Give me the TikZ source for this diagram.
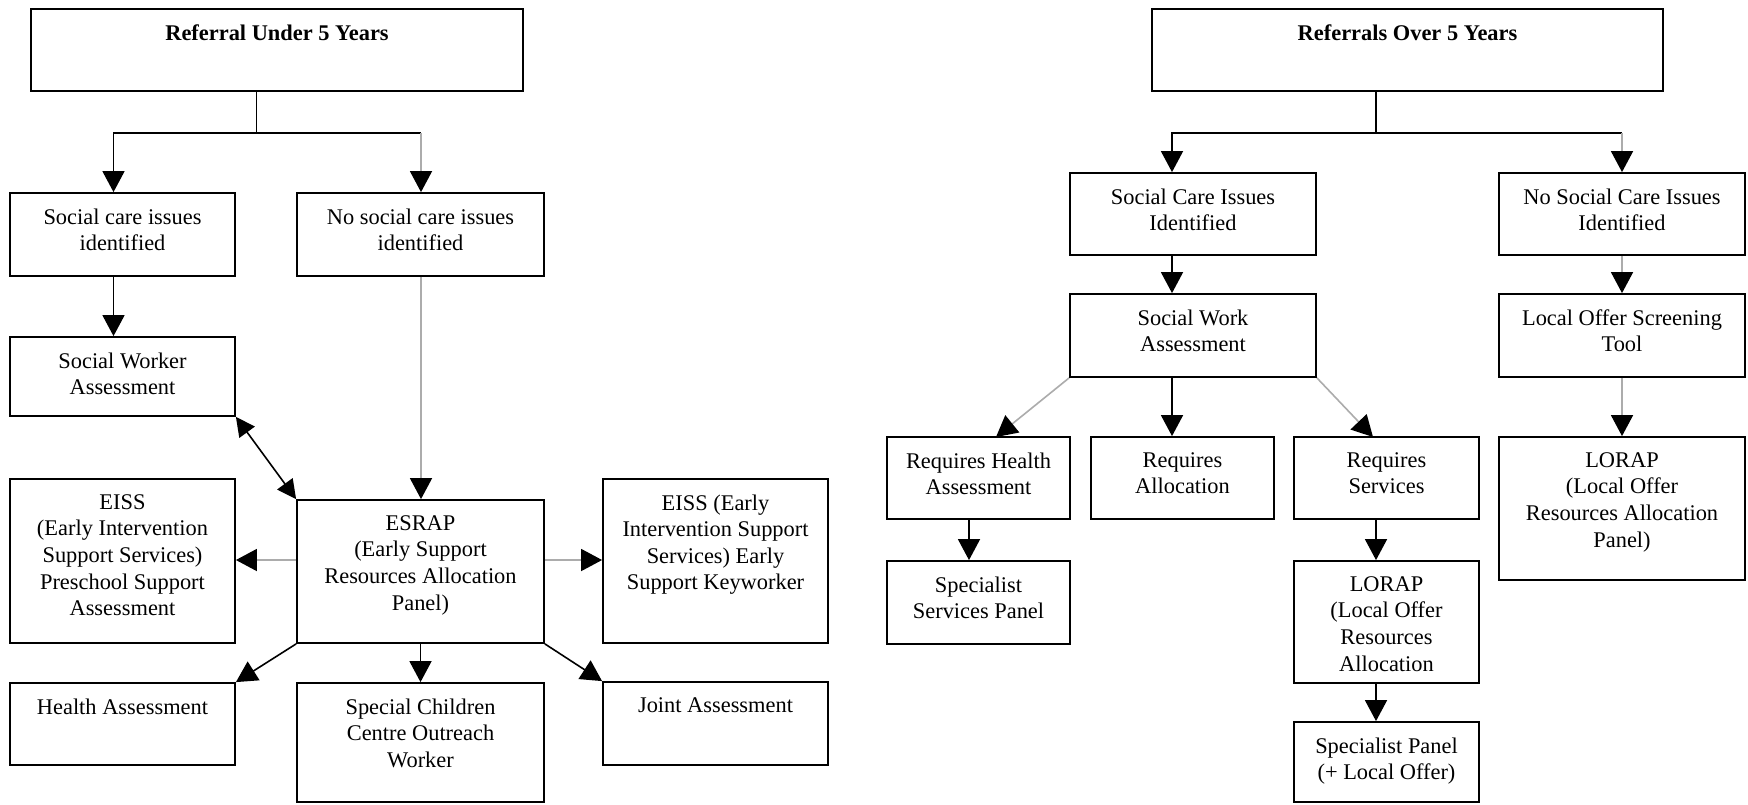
\documentclass[tikz,border=0pt]{standalone}
\usepackage{fontspec}
\setmainfont{Liberation Serif}
\usetikzlibrary{arrows.meta,fit}
\tikzset{
 box/.style={draw=black, line width=0.9pt, inner sep=0pt, rectangle},
 txt/.style={align=center, inner sep=0pt, font=\fontsize{11.2}{13.3}\selectfont},
 ln/.style={line width=0.8pt, draw=black},
 gln/.style={line width=0.8pt, draw=gray!65},
 arr/.style={-{Triangle[length=10.5pt,width=11pt,color=black]}},
 darr/.style={{Triangle[length=9.5pt,width=9.5pt,color=black]}-{Triangle[length=9.5pt,width=9.5pt,color=black]}},
}
\newcommand\mkbox[6]{\node[box,fit={(#2,#3) (#4,#5)}] (#1) {};
  \node[txt,anchor=north] (#1t) at ([yshift=-8pt]#1.north) {#6};}
\begin{document}
\begin{tikzpicture}[x=0.5pt,y=-0.5pt]
\fill[white] (0,0) rectangle (1748,804);
\useasboundingbox (0,0) rectangle (1748,804);
% left
\mkbox{T1}{31}{9}{523}{91}{\bfseries Referral Under 5 Years}
\mkbox{A}{10}{193}{235}{276}{Social care issues\\identified}
\mkbox{B}{297}{193}{544}{276}{No social care issues\\identified}
\mkbox{C}{10}{337}{235}{416}{Social Worker\\Assessment}
\mkbox{D}{10}{479}{235}{643}{EISS\\(Early Intervention\\Support Services)\\Preschool Support\\Assessment}
\mkbox{E}{297}{500}{544}{643}{ESRAP\\(Early Support\\Resources Allocation\\Panel)}
\mkbox{F}{603}{479}{828}{643}{EISS (Early\\Intervention Support\\Services) Early\\Support Keyworker}
\mkbox{G}{10}{683}{235}{765}{Health Assessment}
\mkbox{H}{297}{683}{544}{802}{Special Children\\Centre Outreach\\Worker}
\mkbox{I}{603}{682}{828}{765}{Joint Assessment}
% right
\mkbox{T2}{1152}{9}{1663}{91}{\bfseries Referrals Over 5 Years}
\mkbox{J}{1070}{173}{1316}{255}{Social Care Issues\\Identified}
\mkbox{K}{1499}{173}{1745}{255}{No Social Care Issues\\Identified}
\mkbox{L}{1070}{294}{1316}{377}{Social Work\\Assessment}
\mkbox{M}{1499}{294}{1745}{377}{Local Offer Screening\\Tool}
\mkbox{N}{887}{437}{1070}{519}{Requires Health\\Assessment}
\mkbox{O}{1091}{437}{1274}{519}{Requires\\Allocation}
\mkbox{P}{1294}{437}{1479}{519}{Requires\\Services}
\mkbox{Q}{887}{561}{1070}{644}{Specialist\\Services Panel}
\mkbox{R}{1294}{561}{1479}{683}{LORAP\\(Local Offer\\Resources\\Allocation}
\mkbox{S}{1294}{722}{1479}{802}{Specialist Panel\\(+ Local Offer)}
\mkbox{U}{1499}{437}{1745}{580}{LORAP\\(Local Offer\\Resources Allocation\\Panel)}
% left connectors
\coordinate (t1s) at (256.5,91);
\coordinate (j1) at (256.5,133);
\coordinate (j1l) at (113.5,133);
\coordinate (j1r) at (421,133);
\coordinate (ey) at (0,560);
\draw[ln] (t1s) -- (j1);
\draw[ln,arr] (j1) -| (A.north -| j1l);
\draw[ln] (j1) -- (j1r);
\draw[gln,arr] (j1r) -- (B.north -| j1r);
\draw[ln,arr] (A.south -| j1l) -- (C.north -| j1l);
\draw[gln,arr] (B.south -| j1r) -- (E.north -| j1r);
\draw[ln,darr] (C.south east) -- (E.north west);
\draw[gln,arr] (E.west |- ey) -- (D.east |- ey);
\draw[gln,arr] (E.east |- ey) -- (F.west |- ey);
\draw[ln,arr] (E.south west) -- (G.north east);
\draw[ln,arr] (E.south) -- (H.north);
\draw[ln,arr] (E.south east) -- (I.north west);
% right connectors
\coordinate (t2s) at (1376,91);
\coordinate (j2) at (1376,133);
\coordinate (j2l) at (1172,133);
\coordinate (j2r) at (1622,133);
\coordinate (nin) at (996,437);
\coordinate (pin) at (1373,437);
\coordinate (nq) at (969,0);
\draw[ln] (t2s) -- (j2);
\draw[ln,arr] (j2) -| (J.north -| j2l);
\draw[ln] (j2) -- (j2r);
\draw[gln,arr] (j2r) -- (K.north -| j2r);
\draw[ln,arr] (J.south -| j2l) -- (L.north -| j2l);
\draw[gln,arr] (K.south -| j2r) -- (M.north -| j2r);
\draw[gln,arr] (L.south west) -- (nin);
\draw[ln,arr] (L.south -| j2l) -- (O.north -| j2l);
\draw[gln,arr] (L.south east) -- (pin);
\draw[gln,arr] (M.south -| j2r) -- (U.north -| j2r);
\draw[ln,arr] (N.south -| nq) -- (Q.north -| nq);
\draw[ln,arr] (P.south -| j2) -- (R.north -| j2);
\draw[ln,arr] (R.south -| j2) -- (S.north -| j2);
\end{tikzpicture}
\end{document}
